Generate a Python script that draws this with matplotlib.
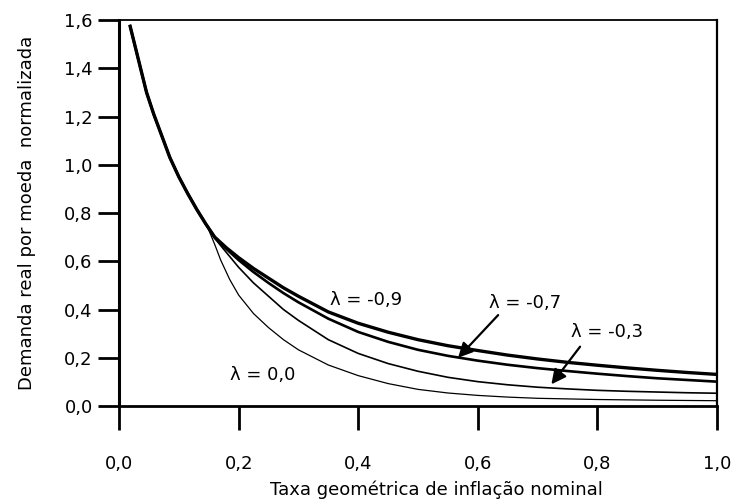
import matplotlib
matplotlib.use("Agg")
import matplotlib.pyplot as plt

plt.rcParams["font.family"] = ["DejaVu Sans"]
plt.rcParams["font.size"] = 13

# trecho comum (todas as curvas coincidem)
x_comum = [0.018, 0.025, 0.035, 0.046, 0.058, 0.07, 0.085, 0.1, 0.115, 0.13, 0.145]
y_comum = [1.58, 1.51, 1.41, 1.30, 1.21, 1.13, 1.03, 0.95, 0.88, 0.815, 0.755]

x_cauda = [0.16, 0.18, 0.2, 0.225, 0.25, 0.275, 0.3, 0.35, 0.4, 0.45, 0.5,
           0.55, 0.6, 0.65, 0.7, 0.75, 0.8, 0.85, 0.9, 0.95, 1.0]
y_l09 = [0.70, 0.655, 0.615, 0.57, 0.53, 0.49, 0.455, 0.39, 0.343, 0.306, 0.275,
         0.25, 0.23, 0.211, 0.195, 0.181, 0.169, 0.158, 0.148, 0.139, 0.131]
y_l07 = [0.70, 0.65, 0.605, 0.555, 0.51, 0.468, 0.43, 0.362, 0.307, 0.266, 0.233,
         0.208, 0.188, 0.171, 0.157, 0.145, 0.134, 0.124, 0.115, 0.108, 0.101]
y_l03 = [0.695, 0.635, 0.575, 0.51, 0.455, 0.40, 0.355, 0.275, 0.218, 0.176, 0.144,
         0.119, 0.101, 0.088, 0.078, 0.071, 0.065, 0.061, 0.058, 0.055, 0.053]
x_l00 = [0.15, 0.16, 0.17, 0.185, 0.2, 0.225, 0.25, 0.275, 0.3, 0.35, 0.4, 0.45,
         0.5, 0.55, 0.6, 0.65, 0.7, 0.8, 0.9, 1.0]
y_l00 = [0.73, 0.67, 0.605, 0.525, 0.46, 0.383, 0.325, 0.275, 0.233, 0.17, 0.126,
         0.093, 0.069, 0.054, 0.044, 0.037, 0.032, 0.027, 0.024, 0.022]

curvas = [
    ("λ = -0,9", x_cauda, y_l09, 2.4),
    ("λ = -0,7", x_cauda, y_l07, 1.9),
    ("λ = -0,3", x_cauda, y_l03, 1.2),
    ("λ = 0,0", x_l00, y_l00, 0.9),
]

fig = plt.figure(figsize=(7.37, 5.04), dpi=100)
ax = fig.add_axes([0.1615, 0.1944, 0.8114, 0.7659])

for nome, xs, ys, lw in curvas:
    ax.plot(x_comum + xs, y_comum + ys, color="black", lw=lw,
            solid_capstyle="butt", solid_joinstyle="round")

ax.set_xlim(0, 1.0)
ax.set_ylim(0, 1.6)

xticks = [0.0, 0.2, 0.4, 0.6, 0.8, 1.0]
yticks = [0.0, 0.2, 0.4, 0.6, 0.8, 1.0, 1.2, 1.4, 1.6]
ax.set_xticks(xticks)
ax.set_xticklabels([f"{v:.1f}".replace(".", ",") for v in xticks])
ax.set_yticks(yticks)
ax.set_yticklabels([f"{v:.1f}".replace(".", ",") for v in yticks])
ax.tick_params(axis="x", direction="out", length=17, width=2, pad=18)
ax.tick_params(axis="y", direction="out", length=15, width=2, pad=4)

ax.spines["left"].set_linewidth(2.2)
ax.spines["bottom"].set_linewidth(2.0)
ax.spines["top"].set_linewidth(1.3)
ax.spines["right"].set_linewidth(1.6)

ax.set_xlabel("Taxa geométrica de inflação nominal", labelpad=6, x=0.53)
ax.set_ylabel("Demanda real por moeda  normalizada", labelpad=20)

ax.text(0.413, 0.44, "λ = -0,9", ha="center", va="center")
ax.text(0.241, 0.128, "λ = 0,0", ha="center", va="center")
ax.text(0.679, 0.427, "λ = -0,7", ha="center", va="center")
ax.text(0.816, 0.307, "λ = -0,3", ha="center", va="center")

seta = dict(arrowstyle="-|>", color="black", lw=1.6, mutation_scale=22,
            shrinkA=0, shrinkB=0)
ax.annotate("", xy=(0.567, 0.20), xytext=(0.634, 0.377), arrowprops=seta)
ax.annotate("", xy=(0.723, 0.09), xytext=(0.771, 0.246), arrowprops=seta)

fig.savefig("out.png", dpi=100)
